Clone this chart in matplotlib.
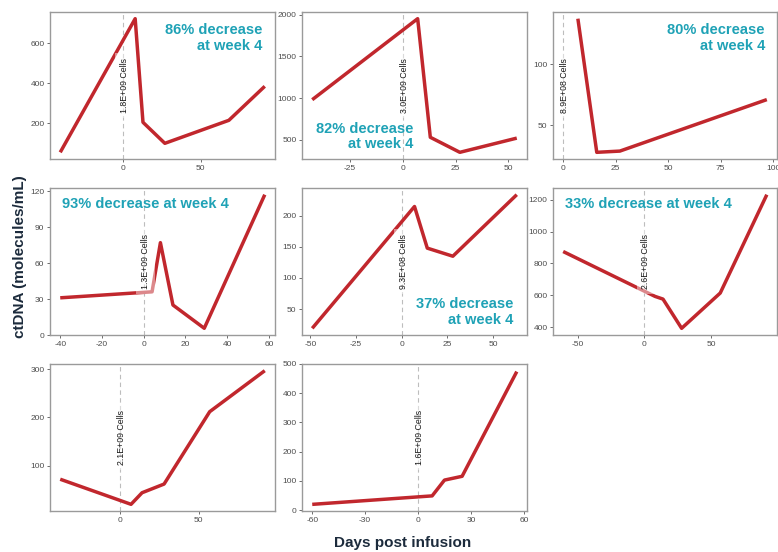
import matplotlib
matplotlib.use("Agg")
import matplotlib.pyplot as plt
import matplotlib.transforms as mtransforms
import numpy as np

plt.rcParams['font.family'] = ['Liberation Sans', 'DejaVu Sans']
plt.rcParams['axes.unicode_minus'] = False

# ---- data ----
x1 = [-40, 8, 13, 27, 68, 91]
y1 = [55, 723, 205, 100, 215, 385]
x2 = [-43, 7, 13, 27, 54]
y2 = [980, 1950, 530, 350, 520]
x3 = [7, 16, 27, 97]
y3 = [137, 28, 29, 71]
x4 = [-40, 4, 8, 14, 29, 58]
y4 = [31, 36, 77, 25, 5.6, 117]
x5 = [-49, 7, 14, 28, 63]
y5 = [19, 215, 148, 135, 234]
x6 = [-61, 8, 14, 28, 57, 92]
y6 = [875, 594, 577, 394, 615, 1231]
x7 = [-38, 7, 14, 28, 57, 92]
y7 = [72, 20, 44, 62, 212, 297]
x8 = [-60, 8, 15, 25, 56]
y8 = [20, 49, 103, 116, 474]

xs = [x1, x2, x3, x4, x5, x6, x7, x8]
ys = [y1, y2, y3, y4, y5, y6, y7, y8]

cell_labels = ["1.8E+09 Cells", "3.0E+09 Cells", "8.9E+08 Cells", "1.3E+09 Cells",
               "9.3E+08 Cells", "2.6E+09 Cells", "2.1E+09 Cells", "1.6E+09 Cells"]

xticks = [[0, 50], [-25, 0, 25, 50], [0, 25, 50, 75, 100], [-40, -20, 0, 20, 40, 60],
          [-50, -25, 0, 25, 50], [-50, 0, 50], [0, 50], [-60, -30, 0, 30, 60]]
yticks = [[200, 400, 600], [500, 1000, 1500, 2000], [50, 100], [0, 30, 60, 90, 120],
          [50, 100, 150, 200], [400, 600, 800, 1000, 1200], [100, 200, 300],
          [0, 100, 200, 300, 400, 500]]

notes = ["86% decrease\nat week 4", "82% decrease\nat week 4", "80% decrease\nat week 4",
         "93% decrease at week 4", "37% decrease\nat week 4", "33% decrease at week 4",
         None, None]
# (x frac, y frac, ha)
note_pos = [(0.942, 0.823, 'right'), (0.493, 0.153, 'right'), (0.946, 0.823, 'right'),
            (0.053, 0.891, 'left'), (0.938, 0.156, 'right'), (0.054, 0.891, 'left'),
            None, None]

# ---- layout ----
W, H = 778, 552
fig = plt.figure(figsize=(W / 100, H / 100), dpi=100)
lefts = [50, 302, 553]
widths = [225, 225, 224]
tops = [12, 188, 364]
ph = 147

RED = "#c1272d"
TEAL = "#1fa2b6"
NAVY = "#1c2b3c"

for i in range(8):
    r, c = divmod(i, 3)
    ax = fig.add_axes([lefts[c] / W, 1 - (tops[r] + ph) / H, widths[c] / W, ph / H])
    x = np.array(xs[i], dtype=float)
    y = np.array(ys[i], dtype=float)
    ax.plot(x, y, color=RED, lw=2.5, solid_capstyle='butt', solid_joinstyle='round', zorder=3)
    ax.axvline(0, color="#bdbdbd", lw=0.8, ls=(0, (4, 3)), zorder=1)

    xlo, xhi = min(x.min(), 0), max(x.max(), 0)
    dx = (xhi - xlo) * 0.05
    ax.set_xlim(xlo - dx, xhi + dx)
    dy = (y.max() - y.min()) * 0.05
    ax.set_ylim(y.min() - dy, y.max() + dy)

    ax.set_xticks(xticks[i])
    ax.set_yticks(yticks[i])
    ax.tick_params(length=2.5, width=0.6, color="#555555", labelcolor="#4d4d4d",
                   labelsize=6, pad=1.5)
    for s in ax.spines.values():
        s.set_color("#9a9a9a")
        s.set_linewidth(1.0)

    trans = mtransforms.blended_transform_factory(ax.transData, ax.transAxes)
    trans = mtransforms.offset_copy(trans, fig=fig, x=1.5, y=0, units='dots')
    ax.text(0, 0.5, cell_labels[i], rotation=90, ha='center', va='center',
            fontsize=6.3, color="#1a1a1a", transform=trans, zorder=4,
            bbox=dict(boxstyle="square,pad=0.55", facecolor="white", alpha=0.45,
                      edgecolor="none"))

    if notes[i] is not None:
        fx, fy, ha = note_pos[i]
        ax.text(fx, fy, notes[i], transform=ax.transAxes, ha=ha, va='center',
                multialignment=ha, fontsize=10.5, fontweight='bold', color=TEAL,
                linespacing=1.15, zorder=5)

fig.text(20 / W, 1 - 257 / H, "ctDNA (molecules/mL)", rotation=90, ha='center',
         va='center', fontsize=11, fontweight='bold', color=NAVY)
fig.text(403 / W, 1 - 543 / H, "Days post infusion", ha='center', va='center',
         fontsize=11, fontweight='bold', color=NAVY)

fig.savefig("out.png", dpi=100)
